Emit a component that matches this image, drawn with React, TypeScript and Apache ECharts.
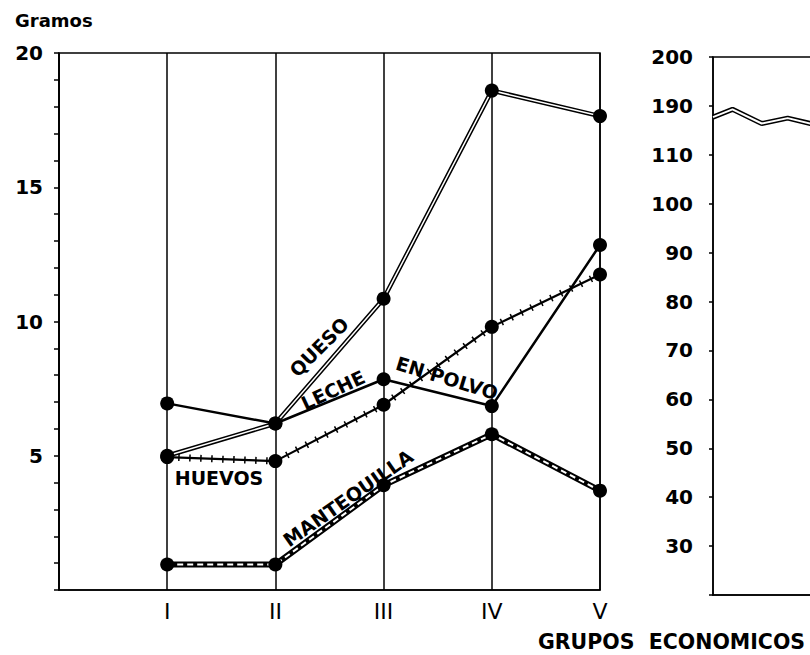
import React, { useEffect, useRef } from "react";
import * as echarts from "echarts";

// ---- data ----
const categories = ["I", "II", "III", "IV", "V"];
const queso = [5.0, 6.2, 10.85, 18.6, 17.65];
const leche = [6.95, 6.2, 7.85, 6.85, 12.85];
const huevos = [4.95, 4.8, 6.9, 9.8, 11.75];
const mantequilla = [0.95, 0.95, 3.9, 5.8, 3.7];
const leftYLabels = [5, 10, 15, 20];
// right panel (broken scale): tick index -> label
const rightYLabels = ["", "30", "40", "50", "60", "70", "80", "90", "100", "110", "190", "200"];
const rightX = [0, 0.18, 0.45, 0.69, 0.9, 1.05];
const rightY = [9.77, 9.93, 9.64, 9.75, 9.64, 9.6];

const FONT = "DejaVu Sans";

function pts(vals: number[]) {
  return categories.map((_, i) => [i + 1, vals[i]]);
}

export default function App() {
  const ref = useRef<HTMLDivElement>(null);
  useEffect(() => {
    document.body.style.margin = "0";
    const chart = echarts.init(ref.current!, undefined, { renderer: "svg" });
    const black = "#000";
    const dot = { symbol: "circle", symbolSize: 14, itemStyle: { color: black, borderWidth: 0 } };
    const noDot = { symbol: "none", showSymbol: false };
    const rightPts = rightX.map((x, i) => [x, rightY[i]]);
    const labelStyle = (text: string) => ({
      text,
      fill: black,
      font: `bold 19px "${FONT}"`,
      align: "center",
      verticalAlign: "middle",
    });
    chart.setOption({
      animation: false,
      backgroundColor: "#fff",
      grid: [
        { left: 59, top: 53, width: 541, height: 537, outerBoundsMode: "none", show: true, borderColor: black, borderWidth: 1.5, backgroundColor: "transparent" },
        { left: 713, top: 57, width: 541, height: 538, outerBoundsMode: "none", show: true, borderColor: black, borderWidth: 1.5, backgroundColor: "transparent" },
      ],
      xAxis: [
        {
          type: "value",
          gridIndex: 0,
          min: 0,
          max: 5,
          interval: 1,
          axisLine: { show: true, lineStyle: { color: black, width: 1.5 } },
          axisTick: { show: false },
          splitLine: { show: true, lineStyle: { color: black, width: 1.5 } },
          axisLabel: {
            formatter: (v: number) => categories[v - 1] ?? "",
            color: black,
            fontFamily: FONT,
            fontSize: 22,
            margin: 10,
          },
        },
        {
          type: "value",
          gridIndex: 1,
          min: 0,
          max: 5,
          interval: 1,
          axisLine: { show: true, lineStyle: { color: black, width: 1.5 } },
          axisTick: { show: false },
          splitLine: { show: false },
          axisLabel: { show: false },
        },
      ],
      yAxis: [
        {
          type: "value",
          gridIndex: 0,
          min: 0,
          max: 20,
          interval: 1,
          axisLine: { show: true, lineStyle: { color: black, width: 1.5 } },
          axisTick: { show: true, length: 5, lineStyle: { color: black, width: 1.5 } },
          splitLine: { show: false },
          axisLabel: {
            formatter: (v: number) => (leftYLabels.includes(v) ? String(v) : ""),
            color: black,
            fontFamily: FONT,
            fontWeight: "bold",
            fontSize: 20,
            margin: 16,
            padding: [0, 0, 6, 0],
          },
        },
        {
          type: "value",
          gridIndex: 1,
          min: 0,
          max: 11,
          interval: 1,
          axisLine: { show: true, lineStyle: { color: black, width: 1.5 } },
          axisTick: { show: true, length: 4, lineStyle: { color: black, width: 1.5 } },
          splitLine: { show: false },
          axisLabel: {
            formatter: (v: number) => rightYLabels[v] ?? "",
            color: black,
            fontFamily: FONT,
            fontWeight: "bold",
            fontSize: 20,
            margin: 20,
            padding: [0, 0, 8, 0],
          },
        },
      ],
      series: [
        // QUESO double line
        { type: "line", name: "QUESO", data: pts(queso), ...noDot, silent: true, lineStyle: { color: black, width: 4.5 } },
        { type: "line", name: "QUESO-in", data: pts(queso), ...dot, silent: true, lineStyle: { color: "#fff", width: 1.5 } },
        // LECHE EN POLVO
        { type: "line", name: "LECHE EN POLVO", data: pts(leche), ...dot, silent: true, lineStyle: { color: black, width: 2.5 } },
        // HUEVOS line with cross ticks
        { type: "line", name: "HUEVOS", data: pts(huevos), ...dot, silent: true, lineStyle: { color: black, width: 2.2 } },
        { type: "line", name: "HUEVOS-ticks", data: pts(huevos), ...noDot, silent: true, lineStyle: { color: black, width: 7, type: [1.5, 9.5] } },
        // MANTEQUILLA double dashed line
        { type: "line", name: "MANTEQUILLA", data: pts(mantequilla), ...noDot, silent: true, lineStyle: { color: black, width: 6 } },
        { type: "line", name: "MANTEQUILLA-in", data: pts(mantequilla), ...dot, silent: true, lineStyle: { color: "#fff", width: 2, type: [6, 4] } },
        // right panel double line
        { type: "line", xAxisIndex: 1, yAxisIndex: 1, data: rightPts, ...noDot, silent: true, lineStyle: { color: black, width: 5 } },
        { type: "line", xAxisIndex: 1, yAxisIndex: 1, data: rightPts, ...noDot, silent: true, lineStyle: { color: "#fff", width: 2 } },
      ],
      graphic: [
        { type: "text", left: 15, top: 11, style: { text: "Gramos", fill: black, font: `bold 18px "${FONT}"` } },
        { type: "text", left: 538, top: 631, style: { text: "GRUPOS  ECONOMICOS", fill: black, font: `bold 20.5px "${FONT}"` } },
        { type: "text", x: 319, y: 347, rotation: (45 * Math.PI) / 180, style: labelStyle("QUESO"), z: 100 },
        { type: "text", x: 333, y: 390, rotation: (25 * Math.PI) / 180, style: labelStyle("LECHE"), z: 100 },
        { type: "text", x: 447, y: 378, rotation: (-17 * Math.PI) / 180, style: labelStyle("EN POLVO"), z: 100 },
        { type: "text", x: 219, y: 478, style: labelStyle("HUEVOS"), z: 100 },
        { type: "text", x: 348, y: 498, rotation: (35 * Math.PI) / 180, style: labelStyle("MANTEQUILLA"), z: 100 },
      ],
    });
    return () => chart.dispose();
  }, []);
  return <div ref={ref} style={{ width: 810, height: 655 }} />;
}
